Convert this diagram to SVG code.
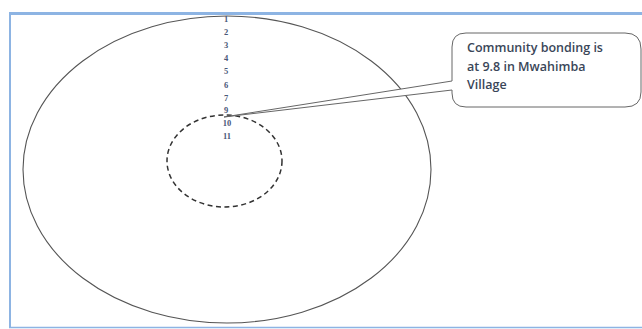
<svg xmlns="http://www.w3.org/2000/svg" width="642" height="329" viewBox="0 0 642 329">
<style>
.frame{fill:none;stroke:#8db4e3;}
.outer{fill:none;stroke:#555;stroke-width:1.1;}
.inner{fill:none;stroke:#333;stroke-width:1.5;stroke-dasharray:5 3.5;}
.num{font-family:"Liberation Serif",serif;font-size:8.5px;font-weight:bold;fill:#4a5878;text-anchor:middle;}
.call{fill:#fff;stroke:#666;stroke-width:1;}
.ct{font-family:"Open Sans","Liberation Sans",sans-serif;font-size:12.5px;font-weight:600;fill:#3a4658;}
</style>
<rect width="642" height="329" fill="#fff"/>
<g id="frame">
<line class="frame" x1="9" y1="13.5" x2="642" y2="13.5" stroke-width="3"/>
<line class="frame" x1="10" y1="13" x2="10" y2="328" stroke-width="2"/>
<line class="frame" x1="9" y1="327.5" x2="642" y2="327.5" stroke-width="1.5"/>
</g>
<g id="outer-circle">
<ellipse class="outer" cx="227" cy="169.5" rx="204" ry="153.5"/>
</g>
<g id="inner-circle">
<ellipse class="inner" cx="224.5" cy="161" rx="57.5" ry="46"/>
</g>
<g id="scale">
<text class="num" x="226" y="22">1</text>
<text class="num" x="226" y="35">2</text>
<text class="num" x="226" y="48">3</text>
<text class="num" x="226" y="61">4</text>
<text class="num" x="226" y="74">5</text>
<text class="num" x="226" y="88">6</text>
<text class="num" x="226" y="101">7</text>
<text class="num" x="226" y="113">9</text>
<text class="num" x="227" y="126">10</text>
<text class="num" x="227" y="139">11</text>
</g>
<g id="connectors">
</g>
<g id="callout">
<path class="call" d="M466,33 L625,33 Q641,33 641,49 L641,92 Q641,107 625,107 L466,107 Q452,107 452,93 L452,90 L224,117 L452,81 L452,47 Q452,33 466,33 Z"/>
<text class="ct" x="467" y="52">Community bonding is</text>
<text class="ct" x="467" y="70.5">at 9.8 in Mwahimba</text>
<text class="ct" x="467" y="89">Village</text>
</g>
</svg>
